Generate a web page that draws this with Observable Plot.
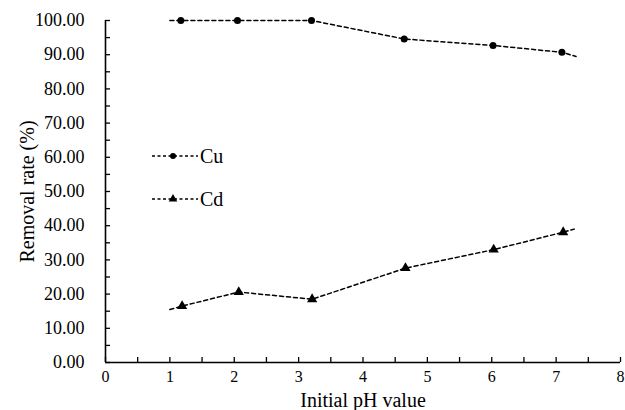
<!DOCTYPE html>
<html>
<head>
<meta charset="utf-8">
<script src="https://cdn.jsdelivr.net/npm/d3@7"></script>
<script src="https://cdn.jsdelivr.net/npm/@observablehq/plot@0.6"></script>
<style>
  html, body { margin: 0; padding: 0; background: #fff; }
  #wrap { position: relative; width: 625px; height: 410px; overflow: hidden; font-family: "Liberation Serif", "Times New Roman", serif; }
  #wrap svg, #wrap svg text { font-family: "Liberation Serif", "Times New Roman", serif !important; }
  #legend { position: absolute; left: 152px; top: 144px; font-size: 20px; color: #000; }
  .item { display: flex; align-items: center; height: 24px; margin-bottom: 19px; }
  .item span { margin-left: 2px; }
</style>
</head>
<body>
<div id="wrap"></div>
<script>
// Data
const seriesNames = ["Cu", "Cd"];
const cuPH = [1.17, 2.05, 3.2, 4.64, 6.02, 7.09];
const cuRate = [100.0, 100.0, 100.0, 94.6, 92.7, 90.7];
const cdPH = [1.19, 2.07, 3.21, 4.66, 6.03, 7.11];
const cdRate = [16.5, 20.6, 18.5, 27.6, 33.0, 38.1];
// dashed connector lines run slightly past the first/last marker
const cuLineStart = [1.0, 100.0];
const cuLineEnd = [7.31, 89.5];
const cdLineStart = [1.0, 15.5];
const cdLineEnd = [7.28, 39.0];
const xTickLabels = [0, 1, 2, 3, 4, 5, 6, 7, 8];
const xMinorTicks = d3.range(0, 8.01, 0.5);
const yTickLabels = [0, 10, 20, 30, 40, 50, 60, 70, 80, 90, 100];
const yMinorTicks = d3.range(0, 100.01, 5);

const cuPts = cuPH.map((x, i) => ({x, y: cuRate[i], s: seriesNames[0]}));
const cdPts = cdPH.map((x, i) => ({x, y: cdRate[i], s: seriesNames[1]}));
const cuLine = [{x: cuLineStart[0], y: cuLineStart[1]}, ...cuPts, {x: cuLineEnd[0], y: cuLineEnd[1]}];
const cdLine = [{x: cdLineStart[0], y: cdLineStart[1]}, ...cdPts, {x: cdLineEnd[0], y: cdLineEnd[1]}];

const W = 625, H = 410, mL = 105, mR = 5, mT = 20, mB = 48;
const frameW = W - mL - mR, frameH = H - mT - mB;

const chart = Plot.plot({
  width: W, height: H,
  marginLeft: mL, marginRight: mR, marginTop: mT, marginBottom: mB,
  style: {fontFamily: "'Liberation Serif', 'Times New Roman', serif", color: "#000", background: "#fff", overflow: "visible"},
  x: {domain: [0, 8]},
  y: {domain: [0, 100]},
  marks: [
    Plot.axisX({ticks: xTickLabels, tickSize: 0, tickPadding: 8, fontSize: 16, tickFormat: d => String(d),
      label: "Initial pH value", labelAnchor: "center", labelArrow: "none", labelOffset: 44}),
    Plot.axisY({ticks: yTickLabels, tickSize: 0, tickPadding: 21, fontSize: 18, tickFormat: d3.format(".2f"),
      label: "Removal rate (%)", labelAnchor: "center", labelArrow: "none", labelOffset: 86}),
    Plot.tickX(xMinorTicks, {x: d => d, insetTop: frameH - 5, stroke: "#000", strokeWidth: 1.3}),
    Plot.tickY(yMinorTicks, {y: d => d, insetRight: frameW - 5, stroke: "#000", strokeWidth: 1.3}),
    Plot.ruleY([0], {stroke: "#000", strokeWidth: 1.6}),
    Plot.ruleX([0], {stroke: "#000", strokeWidth: 1.6}),
    Plot.line(cuLine, {x: "x", y: "y", stroke: "#000", strokeWidth: 1.5, strokeDasharray: "4,3"}),
    Plot.line(cdLine, {x: "x", y: "y", stroke: "#000", strokeWidth: 1.5, strokeDasharray: "4,3"}),
    Plot.dot(cuPts, {x: "x", y: "y", r: 3.5, fill: "#000", stroke: "none", symbol: "circle"}),
    Plot.dot(cdPts, {x: "x", y: "y", r: 3.8, fill: "#000", stroke: "none", symbol: "triangle"})
  ]
});

d3.select(chart).selectAll("[aria-label='x-axis label'] text, [aria-label='y-axis label'] text").style("font-size", "20px");

const wrap = document.getElementById("wrap");
wrap.appendChild(chart);

// legend
const legend = document.createElement("div");
legend.id = "legend";
const symbols = {Cu: "circle", Cd: "triangle"};
const sizes = {Cu: 3.0, Cd: 3.2};
seriesNames.forEach(name => {
  const item = document.createElement("div");
  item.className = "item";
  const svg = d3.create("svg").attr("width", 46).attr("height", 24);
  svg.append("line").attr("x1", 0).attr("x2", 46).attr("y1", 12).attr("y2", 12)
    .attr("stroke", "#000").attr("stroke-width", 1.3).attr("stroke-dasharray", "3,2.5");
  const sym = d3.symbol(symbols[name] === "circle" ? d3.symbolCircle : d3.symbolTriangle, Math.PI * sizes[name] * sizes[name]);
  svg.append("path").attr("d", sym()).attr("transform", "translate(21,12)").attr("fill", "#000");
  item.appendChild(svg.node());
  const t = document.createElement("span");
  t.textContent = name;
  item.appendChild(t);
  legend.appendChild(item);
});
wrap.appendChild(legend);
</script>
</body>
</html>
